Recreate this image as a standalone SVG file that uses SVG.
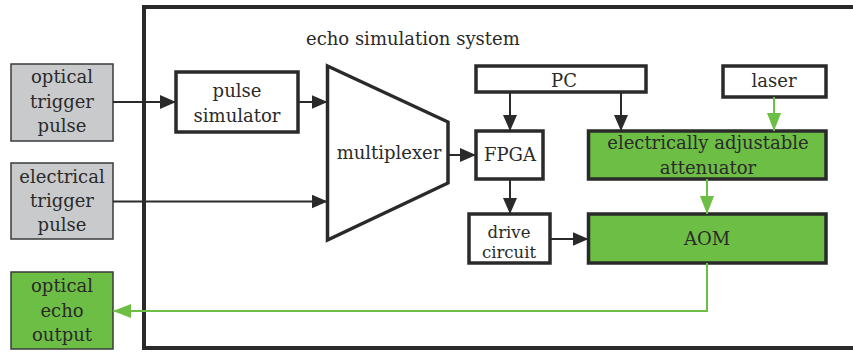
<svg xmlns="http://www.w3.org/2000/svg" width="853" height="353" viewBox="0 0 853 353">
<defs>
<style>
text{font-family:"DejaVu Serif","Liberation Serif",serif;font-size:18px;fill:#2a2a2a;text-anchor:middle}
.box{fill:#fff;stroke:#2a2a2a;stroke-width:3.5}
.gbox{fill:#6dbe45;stroke:#2a2a2a;stroke-width:3.5}
.ext{fill:#c9cacc;stroke:#3a3a3a;stroke-width:1.5}
.extg{fill:#6dbe45;stroke:#3a3a3a;stroke-width:1.5}
.bl{stroke:#2a2a2a;stroke-width:2;fill:none}
.gl{stroke:#6dbe45;stroke-width:2;fill:none}
.sm{font-size:16.5px}
</style>
<marker id="ab" markerUnits="userSpaceOnUse" markerWidth="16" markerHeight="14" refX="16" refY="7" orient="auto"><path d="M0,0 L16,7 L0,14 Z" fill="#2a2a2a"/></marker>
<marker id="ag" markerUnits="userSpaceOnUse" markerWidth="18" markerHeight="14" refX="18" refY="7" orient="auto"><path d="M0,0 L18,7 L0,14 Z" fill="#6dbe45"/></marker>
</defs>
<rect x="144" y="7" width="800" height="341" fill="none" stroke="#2a2a2a" stroke-width="4"/>
<text x="306" y="45" style="text-anchor:start">echo simulation system</text>
<g id="optical-trigger"><rect class="ext" x="11" y="64" width="102" height="77"/><text x="62" y="83">optical</text><text x="62" y="108">trigger</text><text x="62" y="132">pulse</text></g>
<g id="electrical-trigger"><rect class="ext" x="11" y="163" width="102" height="76"/><text x="62" y="183">electrical</text><text x="62" y="207">trigger</text><text x="62" y="231">pulse</text></g>
<g id="optical-echo"><rect class="extg" x="11" y="272" width="102" height="77"/><text x="62" y="292">optical</text><text x="62" y="317">echo</text><text x="62" y="341">output</text></g>
<g id="pulse-simulator"><rect class="box" x="176" y="72" width="122" height="60"/><text x="237" y="97">pulse</text><text x="237" y="122">simulator</text></g>
<g id="multiplexer"><polygon class="box" points="327.5,66 448,122 448,183 327.5,240"/><text x="389" y="159">multiplexer</text></g>
<g id="pc"><rect class="box" x="476" y="66" width="170" height="26"/><text x="564" y="87">PC</text></g>
<g id="laser"><rect class="box" x="723" y="66" width="103" height="31"/><text x="774" y="87">laser</text></g>
<g id="fpga"><rect class="box" x="476" y="131" width="67" height="48"/><text x="510" y="161">FPGA</text></g>
<g id="attenuator"><rect class="gbox" x="588.5" y="131" width="237.5" height="48"/><text x="708" y="149">electrically adjustable</text><text x="708" y="174">attenuator</text></g>
<g id="drive-circuit"><rect class="box" x="469" y="214" width="81" height="49"/><text class="sm" x="509" y="237.5">drive</text><text class="sm" x="509" y="257.5">circuit</text></g>
<g id="aom"><rect class="gbox" x="588.5" y="214" width="237.5" height="49"/><text x="707" y="245">AOM</text></g>
<g id="connectors">
<line class="bl" x1="113" y1="102" x2="176" y2="102" marker-end="url(#ab)"/>
<line class="bl" x1="298" y1="102" x2="327.5" y2="102" marker-end="url(#ab)"/>
<line class="bl" x1="113" y1="201.5" x2="327.5" y2="201.5" marker-end="url(#ab)"/>
<line class="bl" x1="448" y1="155" x2="476" y2="155" marker-end="url(#ab)"/>
<line class="bl" x1="510" y1="92" x2="510" y2="131" marker-end="url(#ab)"/>
<line class="bl" x1="621" y1="92" x2="621" y2="131" marker-end="url(#ab)"/>
<line class="bl" x1="510" y1="179" x2="510" y2="214" marker-end="url(#ab)"/>
<line class="bl" x1="550" y1="239" x2="588.5" y2="239" marker-end="url(#ab)"/>
<line class="gl" x1="774" y1="97" x2="774" y2="131" marker-end="url(#ag)"/>
<line class="gl" x1="707" y1="179" x2="707" y2="214" marker-end="url(#ag)"/>
<polyline class="gl" points="707,263 707,311 113,311" marker-end="url(#ag)"/>
</g>
</svg>
